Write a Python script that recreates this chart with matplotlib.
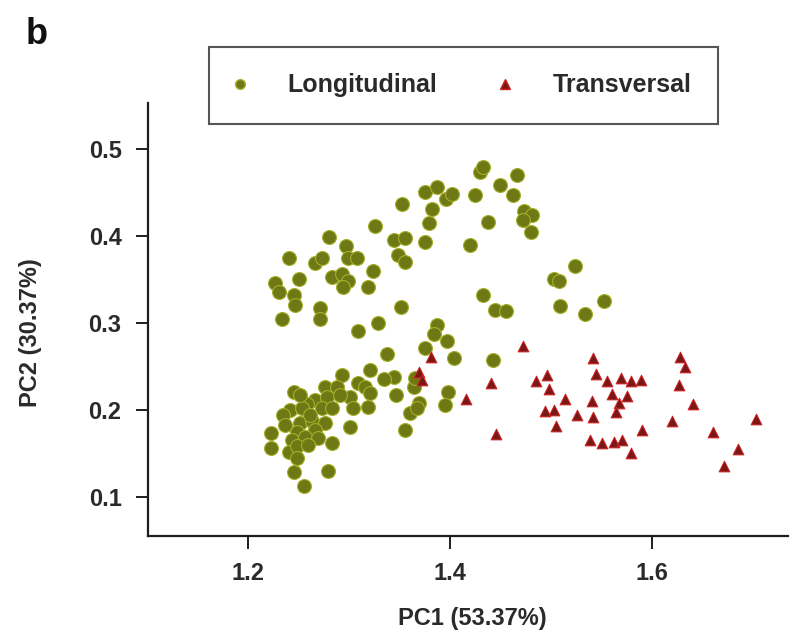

###############
## Libraries ##
###############

import numpy as np
import matplotlib as mpl
import matplotlib.pyplot as plt
from matplotlib.lines import Line2D


####################
## Parametres mpl ##
####################

mpl.rcParams['font.family'] = ['Liberation Sans', 'DejaVu Sans']
mpl.rcParams['font.weight'] = 'bold'
mpl.rcParams['axes.labelweight'] = 'bold'
mpl.rcParams['font.size']   = 17


##########
## Data ##
##########

## Longitudinal samples (PC1 , PC2)
long_pc1 = [1.430, 1.433, 1.449, 1.425, 1.375, 1.387, 1.396, 1.402, 1.352, 1.382,
			1.379, 1.438, 1.326, 1.280, 1.344, 1.355, 1.375, 1.420, 1.240, 1.266,
			1.273, 1.297, 1.299, 1.308, 1.348, 1.355, 1.324, 1.250, 1.226, 1.230,
			1.283, 1.293, 1.299, 1.294, 1.319, 1.245, 1.246, 1.271, 1.351, 1.433,
			1.445, 1.466, 1.462, 1.473, 1.481, 1.472, 1.480, 1.524, 1.503, 1.508,
			1.509, 1.553, 1.534, 1.455, 1.233, 1.271, 1.309, 1.329, 1.387, 1.384,
			1.397, 1.375, 1.337, 1.404, 1.443, 1.293, 1.321, 1.344, 1.334, 1.276,
			1.288, 1.309, 1.316, 1.245, 1.266, 1.258, 1.278, 1.301, 1.321, 1.346,
			1.364, 1.398, 1.241, 1.253, 1.273, 1.283, 1.304, 1.319, 1.369, 1.395,
			1.251, 1.263, 1.276, 1.248, 1.266, 1.301, 1.360, 1.367, 1.222, 1.243,
			1.256, 1.283, 1.222, 1.240, 1.248, 1.355, 1.245, 1.279, 1.255, 1.365,
			1.234, 1.261, 1.251, 1.269, 1.236, 1.259, 1.291, 1.248]
long_pc2 = [0.474, 0.480, 0.459, 0.447, 0.451, 0.457, 0.443, 0.449, 0.437, 0.431,
			0.415, 0.416, 0.412, 0.399, 0.396, 0.398, 0.393, 0.390, 0.375, 0.369,
			0.375, 0.389, 0.375, 0.375, 0.378, 0.370, 0.360, 0.351, 0.346, 0.336,
			0.353, 0.357, 0.348, 0.342, 0.342, 0.332, 0.321, 0.317, 0.319, 0.332,
			0.315, 0.470, 0.447, 0.429, 0.425, 0.419, 0.405, 0.366, 0.351, 0.348,
			0.320, 0.326, 0.311, 0.314, 0.305, 0.305, 0.291, 0.300, 0.298, 0.288,
			0.279, 0.271, 0.265, 0.260, 0.258, 0.240, 0.246, 0.238, 0.236, 0.227,
			0.227, 0.231, 0.227, 0.221, 0.212, 0.207, 0.215, 0.215, 0.219, 0.217,
			0.227, 0.221, 0.200, 0.202, 0.202, 0.202, 0.202, 0.204, 0.208, 0.206,
			0.185, 0.187, 0.185, 0.175, 0.177, 0.181, 0.196, 0.202, 0.173, 0.165,
			0.169, 0.162, 0.156, 0.152, 0.158, 0.177, 0.129, 0.130, 0.112, 0.237,
			0.194, 0.194, 0.217, 0.168, 0.183, 0.160, 0.217, 0.145]

## Transversal samples (PC1 , PC2)
trans_pc1 = [1.381, 1.369, 1.372, 1.416, 1.441, 1.446, 1.472, 1.542, 1.628, 1.633,
			 1.485, 1.496, 1.498, 1.545, 1.556, 1.569, 1.579, 1.589, 1.561, 1.575,
			 1.567, 1.564, 1.627, 1.514, 1.541, 1.641, 1.494, 1.503, 1.526, 1.542,
			 1.505, 1.590, 1.620, 1.661, 1.703, 1.539, 1.551, 1.562, 1.570, 1.579,
			 1.685, 1.672]
trans_pc2 = [0.261, 0.244, 0.235, 0.213, 0.231, 0.172, 0.274, 0.260, 0.261, 0.249,
			 0.233, 0.240, 0.224, 0.242, 0.233, 0.237, 0.233, 0.235, 0.218, 0.216,
			 0.208, 0.198, 0.229, 0.213, 0.210, 0.207, 0.199, 0.200, 0.194, 0.192,
			 0.182, 0.177, 0.187, 0.175, 0.190, 0.165, 0.162, 0.163, 0.165, 0.150,
			 0.155, 0.136]

groups  = ["Longitudinal", "Transversal"]
xticks  = [1.2, 1.4, 1.6]
yticks  = [0.1, 0.2, 0.3, 0.4, 0.5]
xlabel  = "PC1 (53.37%)"
ylabel  = "PC2 (30.37%)"


##########
## Plot ##
##########

fig = plt.figure( figsize = (7.9,6.34) , dpi = 100 )
ax  = fig.add_axes( [0.1873, 0.1546, 0.8107, 0.6829] )

green_face , green_edge = "#6e7814" , "#a4b02a"
red_face   , red_edge   = "#7a1818" , "#d42020"

ax.scatter( long_pc1 , long_pc2 , s = 100 , marker = "o" , facecolor = green_face , edgecolor = green_edge , linewidth = 0.8 , zorder = 2 )
ax.scatter( trans_pc1 , trans_pc2 , s = 60 , marker = "^" , facecolor = red_face , edgecolor = red_edge , linewidth = 0.7 , zorder = 3 )

ax.set_xlim( 1.1005 , 1.7354 )
ax.set_ylim( 0.055 , 0.5533 )
ax.set_xticks( xticks )
ax.set_yticks( yticks )
ax.set_xticklabels( [ "{:.1f}".format(t) for t in xticks ] )
ax.set_yticklabels( [ "{:.1f}".format(t) for t in yticks ] )

for side in ["top","right"]:
	ax.spines[side].set_visible(False)
for side in ["left","bottom"]:
	ax.spines[side].set_linewidth(1.6)
	ax.spines[side].set_color("#1e1e1e")

ax.tick_params( direction = "out" , length = 9 , width = 1.4 , color = "#1e1e1e" , labelcolor = "#2a2a2a" , labelsize = 17 )
ax.tick_params( axis = "y" , pad = 10 )
ax.tick_params( axis = "x" , pad = 10 )

ax.set_xlabel( xlabel , fontsize = 17 , fontweight = "bold" , color = "#2a2a2a" )
ax.set_ylabel( ylabel , fontsize = 17 , fontweight = "bold" , color = "#2a2a2a" )
ax.xaxis.set_label_coords( 0.507 , -0.165 )
ax.yaxis.set_label_coords( -0.166 , 0.47 )

## Legend
handles = [ Line2D( [] , [] , linestyle = "none" , marker = "o" , markersize = 7 , markerfacecolor = green_face , markeredgecolor = green_edge ) ,
			Line2D( [] , [] , linestyle = "none" , marker = "^" , markersize = 7 , markerfacecolor = red_face , markeredgecolor = red_edge ) ]
leg = fig.legend( handles , groups , ncol = 2 , loc = "upper left" ,
				  bbox_to_anchor = ( 209/790 , 1 - 47/634 ) , borderaxespad = 0 ,
				  fancybox = False , framealpha = 1 , edgecolor = "#555555" ,
				  handlelength = 0.4 , handletextpad = 1.7 , columnspacing = 2.5 ,
				  borderpad = 1.05 , fontsize = 18 )
leg.get_frame().set_linewidth(1.5)
for txt in leg.get_texts():
	txt.set_color("#2a2a2a")

## Panel letter
fig.text( 0.032 , 0.945 , "b" , fontsize = 26 , fontweight = "bold" , ha = "left" , va = "center" , color = "#111111" )

plt.savefig( "out.png" , dpi = 100 )
plt.close(fig)
